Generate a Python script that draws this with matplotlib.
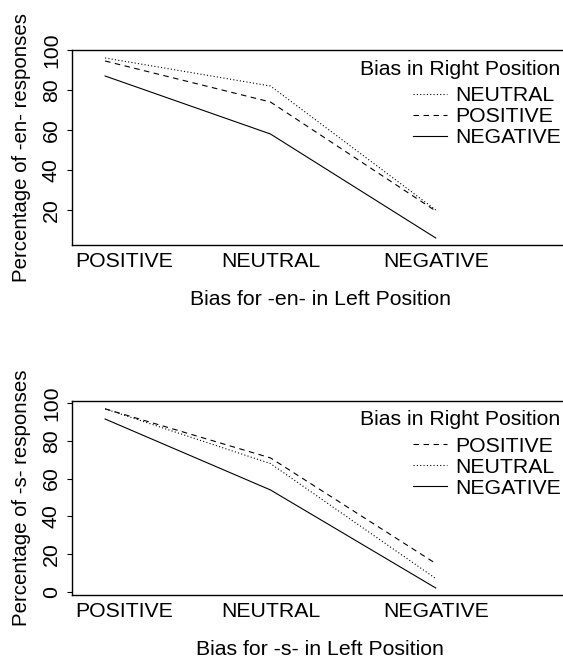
import matplotlib
matplotlib.use("Agg")
import matplotlib.pyplot as plt
import matplotlib.transforms as mtransforms
from matplotlib.lines import Line2D

# data
left_bias = ["POSITIVE", "NEUTRAL", "NEGATIVE"]
x_pos = [1, 2, 3]

en_neutral = [96, 82, 20]
en_positive = [94.5, 74, 19.5]
en_negative = [87, 58, 6]

s_positive = [97, 71, 15]
s_neutral = [97, 68, 7]
s_negative = [91.6, 54, 2]

en_yticks = [20, 40, 60, 80, 100]
s_yticks = [0, 20, 40, 60, 80, 100]

plt.rcParams['font.family'] = ['Liberation Sans', 'DejaVu Sans']
FS = 15.3

fig = plt.figure(figsize=(5.63, 6.63), dpi=100)

DOT = (0, (1, 2))
DASH = (0, (5, 4))
SOLID = '-'


def setup_axes(ax, ylim, yticks, ylabel, xlabel):
    ax.set_xlim(0.8, 3.8)
    ax.set_ylim(*ylim)
    ax.spines['right'].set_visible(False)
    for sp in ['top', 'bottom', 'left']:
        ax.spines[sp].set_linewidth(1.0)
    ax.set_yticks(yticks)
    ax.set_yticklabels([str(v) for v in yticks], rotation=90, va='center', fontsize=FS)
    ax.tick_params(axis='y', length=3.5, width=0.8, pad=4.5)
    ax.set_xticks(x_pos)
    ax.set_xticklabels(left_bias, fontsize=FS)
    ax.tick_params(axis='x', length=0, pad=5)
    # first category label sits a bit right of its tick
    lab = ax.get_xticklabels()[0]
    lab.set_transform(lab.get_transform() + mtransforms.ScaledTranslation(19 / 100, 0, fig.dpi_scale_trans))
    ax.set_ylabel(ylabel, fontsize=14.7, labelpad=7.5)
    ax.set_xlabel(xlabel, fontsize=FS, labelpad=14)


def add_legend(ax, entries):
    ax.text(0.984, 0.873, "Bias in Right Position", transform=ax.transAxes,
            ha='right', va='baseline', fontsize=FS)
    handles = [Line2D([], [], color='black', lw=0.8, linestyle=ls) for ls, _ in entries]
    labels = [lb for _, lb in entries]
    leg = ax.legend(handles, labels, loc='upper left', bbox_to_anchor=(0.6875, 0.815),
                    frameon=False, fontsize=FS, handlelength=1.6, handletextpad=0.38,
                    labelspacing=0.1, borderpad=0.0, borderaxespad=0.0)
    return leg


ax1 = fig.add_axes([0.1279, 0.6305, 0.881, 0.2941])
ax1.plot(x_pos, en_neutral, color='black', lw=0.8, linestyle=DOT)
ax1.plot(x_pos, en_positive, color='black', lw=0.8, linestyle=DASH)
ax1.plot(x_pos, en_negative, color='black', lw=0.8, linestyle=SOLID)
setup_axes(ax1, (2.5, 100), en_yticks, "Percentage of -en- responses", "Bias for -en- in Left Position")
add_legend(ax1, [(DOT, "NEUTRAL"), (DASH, "POSITIVE"), (SOLID, "NEGATIVE")])

ax2 = fig.add_axes([0.1279, 0.1026, 0.881, 0.2930])
ax2.plot(x_pos, s_positive, color='black', lw=0.8, linestyle=DASH)
ax2.plot(x_pos, s_neutral, color='black', lw=0.8, linestyle=DOT)
ax2.plot(x_pos, s_negative, color='black', lw=0.8, linestyle=SOLID)
setup_axes(ax2, (-1.7, 101.3), s_yticks, "Percentage of -s- responses", "Bias for -s- in Left Position")
add_legend(ax2, [(DASH, "POSITIVE"), (DOT, "NEUTRAL"), (SOLID, "NEGATIVE")])

fig.savefig("out.png", dpi=100)
